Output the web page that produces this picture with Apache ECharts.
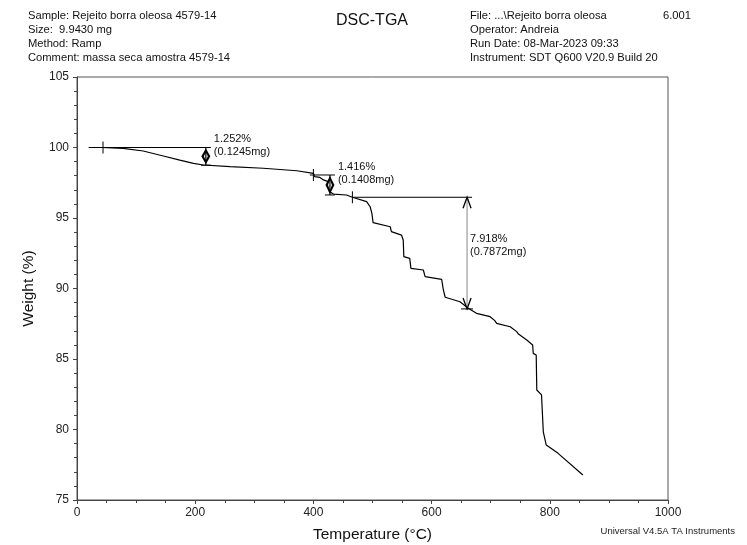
<!DOCTYPE html>
<html>
<head>
<meta charset="utf-8">
<script src="https://cdn.jsdelivr.net/npm/echarts@6/dist/echarts.min.js"></script>
<style>
  html, body { margin: 0; padding: 0; background: #fff; }
  #chart { width: 747px; height: 545px; }
</style>
</head>
<body>
<div id="chart"></div>
<script>
// TGA curve: temperature (°C) and residual weight (%)
const temperature = [20, 42, 78, 112, 146, 174, 197, 214, 259, 315, 372, 400, 402, 411, 417, 425, 427, 434, 456, 466,
  490, 496, 499, 501, 530, 532, 549, 552, 553, 563, 565, 586, 589, 617, 620, 623, 648, 662, 676, 699,
  707, 710, 733, 744, 747, 761, 771, 772, 777, 778, 786, 789, 789, 792, 794, 814, 856];
const weight = [100.0, 100.0, 99.94, 99.75, 99.40, 99.11, 98.88, 98.76, 98.64, 98.53, 98.35, 98.17, 97.93, 97.88, 97.70, 97.58, 96.87, 96.70, 96.63, 96.47,
  96.16, 95.80, 95.33, 94.67, 94.38, 94.03, 93.79, 93.44, 92.26, 92.14, 91.43, 91.31, 90.84, 90.65, 89.89, 89.38, 89.06, 88.60, 88.24, 88.00,
  87.72, 87.53, 87.29, 86.94, 86.77, 86.35, 85.99, 85.40, 85.28, 82.80, 82.45, 82.33, 79.84, 79.73, 78.90, 78.31, 76.77];

// Step-change analyses
const stepFromT  = [20, 394, 466];      // start of the reference line
const stepTickT  = [44, 400, 466];      // analysis start marker
const stepArrowT = [218, 428, 660];     // where the step is measured
const stepTopW   = [100.0, 98.05, 96.47];
const stepPct    = [1.252, 1.416, 7.918];
const stepMg     = ['0.1245', '0.1408', '0.7872'];

const xTicks = [0, 200, 400, 600, 800, 1000];
const yTicks = [75, 80, 85, 90, 95, 100, 105];

const font = 'Liberation Sans, Arial, sans-serif';
const chart = echarts.init(document.getElementById('chart'), null, { renderer: 'canvas' });

function renderStep(params, api) {
  const i = api.value(0);
  const top = stepTopW[i];
  const bottom = top - stepPct[i];
  const a = api.coord([stepArrowT[i], top]);
  const b = api.coord([stepArrowT[i], bottom]);
  const f = api.coord([stepFromT[i], top]);
  const t = api.coord([stepTickT[i], top]);
  const x = a[0], y0 = a[1], y1 = b[1];
  const blk = { stroke: '#000', lineWidth: 1, fill: null };
  const label = stepPct[i].toFixed(3) + '%\n(' + stepMg[i] + 'mg)';
  const kids = [];
  // reference line at the starting weight
  kids.push({ type: 'line', shape: { x1: f[0], y1: y0, x2: x + 5, y2: y0 }, style: blk });
  // start marker
  kids.push({ type: 'line', shape: { x1: t[0], y1: y0 - 6, x2: t[0], y2: y0 + 6 }, style: blk });
  if (i < 2) {
    const m = (y0 + y1) / 2;
    kids.push({ type: 'polygon', shape: { points: [[x, y0 + 1], [x + 4.5, m], [x, y1 - 1], [x - 4.5, m]] }, style: { fill: '#000' } });
    kids.push({ type: 'polygon', shape: { points: [[x, y0 + 5], [x + 2, m], [x, y1 - 5], [x - 2, m]] }, style: { fill: '#fff' } });
    kids.push({ type: 'line', shape: { x1: x, y1: y0, x2: x, y2: y1 }, style: { stroke: '#000', lineWidth: 1.2 } });
    kids.push({ type: 'line', shape: { x1: x - 5, y1: y1, x2: x + 5, y2: y1 }, style: blk });
    kids.push({ type: 'text', x: x + 8, y: y0 - 15, style: {
      text: label, font: '11px ' + font, fill: '#111', lineHeight: 13, verticalAlign: 'top' } });
  } else {
    kids.push({ type: 'line', shape: { x1: x, y1: y0, x2: x, y2: y1 }, style: { stroke: '#888', lineWidth: 1 } });
    kids.push({ type: 'polyline', shape: { points: [[x - 4, y0 + 11], [x, y0], [x + 4, y0 + 11]] }, style: { stroke: '#000', lineWidth: 1.3, fill: null } });
    kids.push({ type: 'polyline', shape: { points: [[x - 4, y1 - 11], [x, y1], [x + 4, y1 - 11]] }, style: { stroke: '#000', lineWidth: 1.3, fill: null } });
    kids.push({ type: 'line', shape: { x1: x - 6, y1: y1, x2: x + 6, y2: y1 }, style: blk });
    kids.push({ type: 'text', x: x + 3, y: y0 + 35, style: {
      text: label, font: '11px ' + font, fill: '#111', lineHeight: 13, verticalAlign: 'top' } });
  }
  return { type: 'group', children: kids };
}

const headerStyle = { font: '11.2px ' + font, fill: '#111' };

chart.setOption({
  animation: false,
  backgroundColor: '#fff',
  grid: { left: 77, right: 79, top: 77, bottom: 45, outerBoundsMode: 'none', containLabel: false,
    show: true, borderColor: '#555', borderWidth: 1, backgroundColor: 'transparent' },
  xAxis: {
    type: 'value', min: 0, max: 1000, interval: 200,
    name: 'Temperature (°C)', nameLocation: 'middle', nameGap: 27,
    nameTextStyle: { fontFamily: font, fontSize: 15.5, color: '#111' },
    axisLine: { lineStyle: { color: '#444', width: 1 } },
    axisTick: { show: true, length: 4, lineStyle: { color: '#444' } },
    minorTick: { show: true, splitNumber: 4, length: 3, lineStyle: { color: '#444' } },
    axisLabel: { fontFamily: font, fontSize: 12, color: '#222', margin: 7,
      formatter: v => xTicks.includes(v) ? String(v) : '' },
    splitLine: { show: false }
  },
  yAxis: {
    type: 'value', min: 75, max: 105, interval: 5,
    name: 'Weight (%)', nameLocation: 'middle', nameGap: 40, nameRotate: 90,
    nameTextStyle: { fontFamily: font, fontSize: 15.5, color: '#111' },
    axisLine: { show: true, lineStyle: { color: '#444', width: 1 } },
    axisTick: { show: true, length: 4, lineStyle: { color: '#444' } },
    minorTick: { show: true, splitNumber: 5, length: 3, lineStyle: { color: '#444' } },
    axisLabel: { fontFamily: font, fontSize: 12, color: '#222', margin: 8,
      formatter: v => yTicks.includes(v) ? String(v) : '' },
    splitLine: { show: false }
  },
  graphic: [
    { type: 'text', left: 28, top: 10, style: Object.assign({ text: 'Sample: Rejeito borra oleosa 4579-14' }, headerStyle) },
    { type: 'text', left: 28, top: 24, style: Object.assign({ text: 'Size:  9.9430 mg' }, headerStyle) },
    { type: 'text', left: 28, top: 38, style: Object.assign({ text: 'Method: Ramp' }, headerStyle) },
    { type: 'text', left: 28, top: 52, style: Object.assign({ text: 'Comment: massa seca amostra 4579-14' }, headerStyle) },
    { type: 'text', left: 336, top: 13, style: { text: 'DSC-TGA', font: '16px ' + font, fill: '#111' } },
    { type: 'text', left: 470, top: 10, style: Object.assign({ text: 'File: ...\\Rejeito borra oleosa' }, headerStyle) },
    { type: 'text', left: 663, top: 10, style: Object.assign({ text: '6.001' }, headerStyle) },
    { type: 'text', left: 470, top: 24, style: Object.assign({ text: 'Operator: Andreia' }, headerStyle) },
    { type: 'text', left: 470, top: 38, style: Object.assign({ text: 'Run Date: 08-Mar-2023 09:33' }, headerStyle) },
    { type: 'text', left: 470, top: 52, style: Object.assign({ text: 'Instrument: SDT Q600 V20.9 Build 20' }, headerStyle) },
    { type: 'text', right: 12, top: 526, style: { text: 'Universal V4.5A TA Instruments', font: '9.5px ' + font, fill: '#222' } }
  ],
  series: [
    {
      type: 'line', name: 'Weight',
      data: temperature.map((t, k) => [t, weight[k]]),
      showSymbol: false, smooth: false,
      lineStyle: { color: '#000', width: 1.2 },
      z: 3
    },
    {
      type: 'custom', name: 'steps',
      data: stepPct.map((p, k) => [k]),
      renderItem: renderStep,
      z: 4
    }
  ]
});
</script>
</body>
</html>
